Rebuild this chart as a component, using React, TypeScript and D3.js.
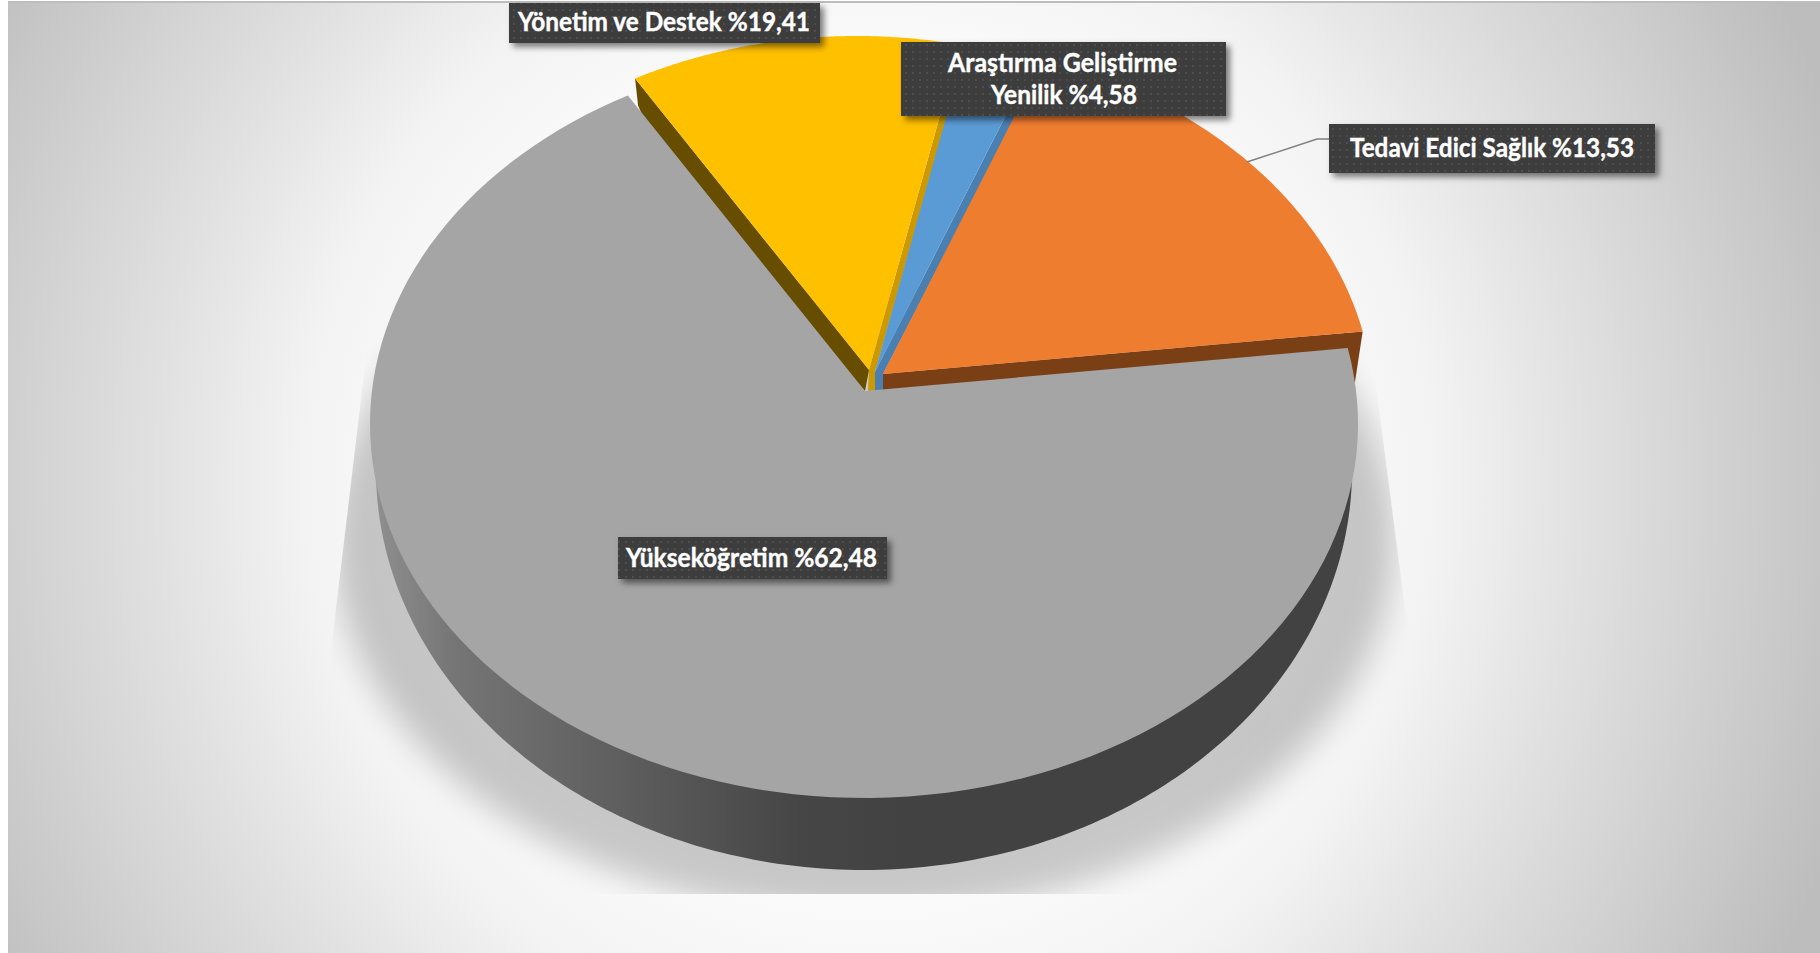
import React from "react";
import * as d3 from "d3";

// Visible slice sizes (share of the full turn, %), clockwise
const sliceNames = ["Tedavi Edici Sağlık", "Yükseköğretim", "Yönetim ve Destek", "Araştırma Geliştirme Yenilik"];
const sliceShares = [17.28, 68.17, 12.0, 2.55];
const sliceColors = ["#ef7d30", "#a5a5a5", "#ffc000", "#5b9bd5"];
const labelValues = ["%13,53", "%62,48", "%19,41", "%4,58"];

const W = 1820;
const H = 953;
const START = (21.1 * Math.PI) / 180;

const pieAngles = d3.pie<number>().sort(null).startAngle(START).endAngle(START + 2 * Math.PI).value((d) => d)(sliceShares);

type Geo = { ax: number; ay: number; cx: number; cy: number; rx: number; ry: number };
const geos: Geo[] = [
  { ax: 883, ay: 374, cx: 880, cy: 411, rx: 494, ry: 374 },
  { ax: 865, ay: 391, cx: 864, cy: 424, rx: 494, ry: 374 },
  { ax: 869, ay: 370, cx: 857, cy: 411, rx: 480, ry: 375 },
  { ax: 875, ay: 372, cx: 870, cy: 411, rx: 490, ry: 374 },
];

// Ray from the slice's apex in the direction of pie angle t, cut with the slice's rim ellipse
function rim(g: Geo, t: number): [number, number] {
  const dx = 494 * Math.sin(t);
  const dy = -374 * Math.cos(t);
  const px = (g.ax - g.cx) / g.rx;
  const py = (g.ay - g.cy) / g.ry;
  const qx = dx / g.rx;
  const qy = dy / g.ry;
  const a = qx * qx + qy * qy;
  const b = 2 * (px * qx + py * qy);
  const c = px * px + py * py - 1;
  const s = (-b + Math.sqrt(b * b - 4 * a * c)) / (2 * a);
  return [g.ax + s * dx, g.ay + s * dy];
}

const line = d3.line<[number, number]>().x((d) => d[0]).y((d) => d[1]);

function topFace(i: number): string {
  const p = pieAngles[i];
  const g = geos[i];
  const n = 120;
  const pts: [number, number][] = [[g.ax, g.ay]];
  for (const k of d3.range(n + 1)) pts.push(rim(g, p.startAngle + ((p.endAngle - p.startAngle) * k) / n));
  return line(pts) + "Z";
}

// Lower half of the bottom rim of the grey slice
const wallPts: [number, number][] = d3.range(0, 181).map((deg) => {
  const t = (deg * Math.PI) / 180;
  return [864 + 488 * Math.cos(t), 470 + 400 * Math.sin(t)];
});

const orangeEnd = rim(geos[0], pieAngles[0].endAngle);
const yellowStart = rim(geos[2], pieAngles[2].startAngle);
const yellowEnd = rim(geos[2], pieAngles[2].endAngle);
const blueEnd = rim(geos[3], pieAngles[3].endAngle);

const walls: { fill: string; pts: [number, number][] }[] = [
  // yellow left wall (its lower part is covered by the grey face)
  { fill: "#664d00", pts: [[geos[2].ax, geos[2].ay], yellowStart, [yellowStart[0] + 3, yellowStart[1] + 27], [yellowStart[0] + 30, yellowStart[1] + 90], [865, 391]] },
  // orange front wall
  { fill: "#7b3f16", pts: [[geos[0].ax, geos[0].ay], orangeEnd, [1355, 382], [1330, 382], [883, 396], [875, 391]] },
  // gold wall on the right of yellow
  { fill: "#cc9a00", pts: [[geos[2].ax, geos[2].ay], yellowEnd, [yellowEnd[0] + 8, yellowEnd[1]], [875, 372], [875, 390.5], [868, 391]] },
  // blue wall
  { fill: "#4a7fb1", pts: [[geos[3].ax, geos[3].ay], blueEnd, [blueEnd[0] + 11, blueEnd[1]], [883, 374], [883, 390], [875, 390.5]] },
];

const boxes = [
  { i: 0, x: 1329, y: 124, w: 326, h: 49, lines: [{ t: `${sliceNames[0]} ${labelValues[0]}`, x: 1350, b: 157, len: 284 }] },
  { i: 1, x: 618, y: 537, w: 269, h: 42, lines: [{ t: `${sliceNames[1]} ${labelValues[1]}`, x: 626, b: 567, len: 251 }] },
  { i: 2, x: 509, y: 3, w: 311, h: 40, lines: [{ t: `${sliceNames[2]} ${labelValues[2]}`, x: 518, b: 31, len: 292 }] },
  {
    i: 3, x: 901, y: 42, w: 325, h: 74,
    lines: [
      { t: "Araştırma Geliştirme", x: 948, b: 72, len: 229 },
      { t: `Yenilik ${labelValues[3]}`, x: 991, b: 104, len: 146 },
    ],
  },
];

export default function App() {
  return (
    <svg width={W} height={H} viewBox={`0 0 ${W} ${H}`} style={{ position: "fixed", left: 0, top: 0, display: "block", background: "#fff" }}>
      <defs>
        <radialGradient id="bg" gradientUnits="userSpaceOnUse" cx={870} cy={480} r={1030}>
          <stop offset="0" stopColor="#ffffff" />
          <stop offset="0.42" stopColor="#fafafa" />
          <stop offset="0.55" stopColor="#f3f3f3" />
          <stop offset="0.7" stopColor="#e0e0e0" />
          <stop offset="1" stopColor="#bdbdbd" />
        </radialGradient>
        <linearGradient id="wall" gradientUnits="userSpaceOnUse" x1={378} y1={0} x2={1350} y2={0}>
          <stop offset="0" stopColor="#8e8e8e" />
          <stop offset="0.08" stopColor="#757575" />
          <stop offset="0.25" stopColor="#5e5e5e" />
          <stop offset="0.43" stopColor="#464646" />
          <stop offset="0.55" stopColor="#424242" />
          <stop offset="1" stopColor="#424242" />
        </linearGradient>
        <filter id="soft" x="-20%" y="-20%" width="140%" height="140%">
          <feGaussianBlur stdDeviation={16} />
        </filter>
        <filter id="boxShadow" x="-10%" y="-20%" width="125%" height="150%">
          <feDropShadow dx={4} dy={4} stdDeviation={3} floodColor="#000" floodOpacity={0.5} />
        </filter>
        <clipPath id="shadowClip">
          <polygon points="374,290 1363,285 1442,894 302,894" />
        </clipPath>
        <pattern id="dots" patternUnits="userSpaceOnUse" width={7} height={7}>
          <rect width={7} height={7} fill="#3e3e3e" />
          <rect x={2} y={2} width={2} height={2} fill="#4e4e4e" />
        </pattern>
      </defs>

      <rect x={8} y={1} width={W - 8} height={H - 1} fill="url(#bg)" />
      <rect x={8} y={1} width={W - 8} height={2} fill="#bdbdbd" />

      <g clipPath="url(#shadowClip)">
        <ellipse cx={864} cy={540} rx={530} ry={375} fill="#000" opacity={0.2} filter="url(#soft)" />
      </g>

      <path d={line(wallPts) + "Z"} fill="url(#wall)" />

      {walls.map((w, i) => (
        <path key={i} d={line(w.pts) + "Z"} fill={w.fill} />
      ))}

      {[1, 2, 3, 0].map((i) => (
        <path key={sliceNames[i]} d={topFace(i)} fill={sliceColors[i]} />
      ))}

      <path d={line([[1247, 162], [1317, 139], [1329, 139]])!} fill="none" stroke="#7f7f7f" strokeWidth={1.5} />

      {boxes.map((b) => (
        <g key={b.i}>
          <rect x={b.x} y={b.y} width={b.w} height={b.h} fill="url(#dots)" filter="url(#boxShadow)" />
          {b.lines.map((l) => (
            <text
              key={l.t}
              x={l.x}
              y={l.b}
              textLength={l.len}
              lengthAdjust="spacingAndGlyphs"
              fontFamily="Lato, 'Open Sans', sans-serif"
              fontWeight={700}
              fontSize={26.5}
              stroke="#fff"
              strokeWidth={0.4}
              fill="#fff"
            >
              {l.t}
            </text>
          ))}
        </g>
      ))}
    </svg>
  );
}
